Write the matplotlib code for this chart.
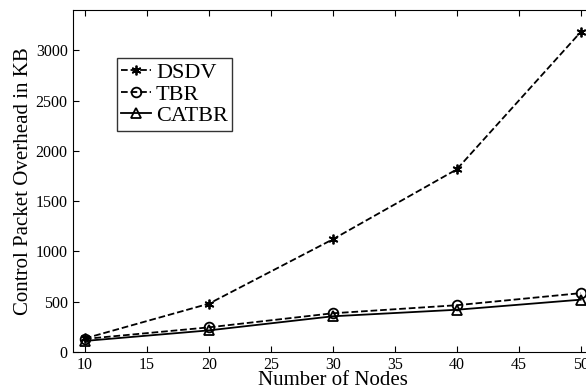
import matplotlib
matplotlib.use('Agg')
import matplotlib.pyplot as plt

nodes = [10, 20, 30, 40, 50]
dsdv = [135, 480, 1120, 1815, 3180]
tbr = [130, 245, 385, 465, 585]
catbr = [110, 215, 355, 420, 520]

plt.rcParams['font.family'] = ['Liberation Serif', 'DejaVu Serif']

fig = plt.figure(figsize=(5.86, 3.91), dpi=100)
ax = fig.add_axes([72.5 / 586, 1 - 352 / 391, (593 - 72.5) / 586, (352 - 10) / 391])

ax.plot(nodes, dsdv, 'k--', marker=(6, 2, 0), markersize=7, mew=1.3, lw=1.3, label='DSDV')
ax.plot(nodes, tbr, 'k--', marker='o', markersize=7, mfc='none', mew=1.3, lw=1.3, label='TBR')
ax.plot(nodes, catbr, 'k-', marker='^', markersize=7, mfc='none', mew=1.3, lw=1.3, label='CATBR')

ax.set_xlim(9, 51)
ax.set_ylim(0, 3400)
ax.set_xticks([10, 15, 20, 25, 30, 35, 40, 45, 50])
ax.set_yticks([0, 500, 1000, 1500, 2000, 2500, 3000])
ax.tick_params(direction='in', top=True, right=True, labelsize=11.5, length=4)
ax.set_xlabel('Number of Nodes', fontsize=15, labelpad=-1)
ax.set_ylabel('Control Packet Overhead in KB', fontsize=15, labelpad=2)

leg = ax.legend(loc='upper left', bbox_to_anchor=(0.0855, 0.86), fontsize=16,
                handlelength=1.35, handletextpad=0.2, borderpad=0.2,
                labelspacing=0.05, fancybox=False, edgecolor='black',
                borderaxespad=0)
leg.get_frame().set_linewidth(1.0)

fig.savefig('out.png', dpi=100)
